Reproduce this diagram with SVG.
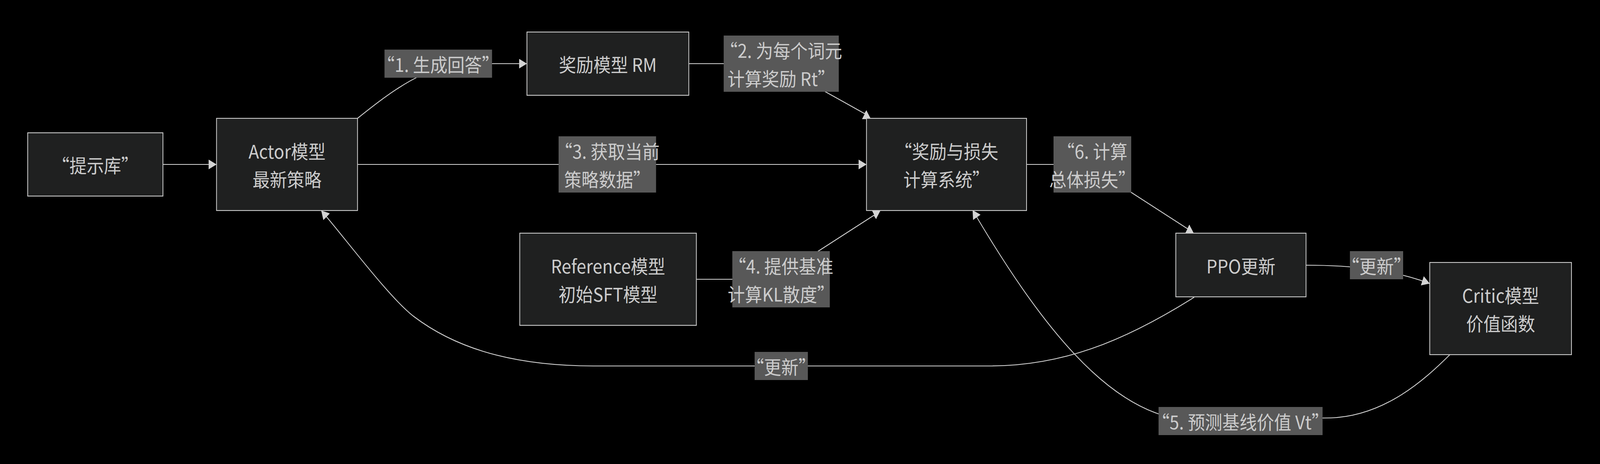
<svg xmlns="http://www.w3.org/2000/svg" width="4446" height="1188" viewBox="0 0 4446 1188">
<defs>
<style>
.node rect{fill:#1f2020;stroke:#cccccc;stroke-width:2.2}
.lbl rect{fill:#585858}
text{font-family:"Noto Sans CJK SC","Noto Sans",sans-serif;font-size:48px;fill:#cccccc;text-anchor:middle;dominant-baseline:central}
.edge{fill:none;stroke:#d3d3d3;stroke-width:2.2;marker-end:url(#arrow)}
</style>
<marker id="arrow" markerUnits="userSpaceOnUse" viewBox="0 0 22 25" markerWidth="22" markerHeight="25" refX="22" refY="12.5" orient="auto"><path d="M0,0 L22,12.5 L0,25 z" fill="#d3d3d3"/></marker>
</defs>
<rect x="0" y="0" width="4446" height="1188" fill="#000000"/>
<g id="diagram" transform="scale(0.9208 1)">
<g id="connectors">
<path class="edge" d="M453,421 L602,421"/>
<path class="edge" d="M994,303 C1090,232 1190,163 1300,163 L1465,163"/>
<path class="edge" d="M1915,163 L2060,163 C2140,163 2210,188 2295,235 L2404,291 L2409,283.5 L2409,283"/>
<path class="edge" d="M994,421 L2409,421"/>
<path class="edge" d="M1936,715 L2060,715 C2150,715 2215,680 2275,643 L2430,551 L2436,559.5 L2436,560"/>
<path class="edge" d="M2854,421 L2950,421 C3010,421 3080,450 3144,492 L3302,586 L3307,576.5 L3307,576"/>
<path class="edge" d="M3631,679 C3760,679 3870,690 3975,726"/>
<path class="edge" d="M3320,761 C3120,877 2950,937 2750,937 L1650,937 C1400,937 1250,880 1150,810 C1080,760 960,610 893,539"/>
<path class="edge" d="M4031,908 C3961,972 3850,1065 3700,1070 L3300,1075 C3080,1060 2884,819 2704,538"/>
</g>
<g id="edge-labels">
<g class="lbl" id="label-1"><rect x="1069" y="127" width="299" height="72"/><text x="1218.5" y="163">“1. 生成回答”</text></g>
<g class="lbl" id="label-2"><rect x="2012" y="91" width="320" height="144"/><text x="2172" y="127">“2. 为每个词元</text><text x="2172" y="199">计算奖励 Rt”</text></g>
<g class="lbl" id="label-3"><rect x="1553" y="349" width="271" height="144"/><text x="1688.5" y="385">“3. 获取当前</text><text x="1688.5" y="457">策略数据”</text></g>
<g class="lbl" id="label-4"><rect x="2036" y="643" width="271" height="144"/><text x="2171.5" y="679">“4. 提供基准</text><text x="2171.5" y="751">计算KL散度”</text></g>
<g class="lbl" id="label-6"><rect x="2929" y="349" width="216" height="144"/><text x="3037" y="385">“6. 计算</text><text x="3037" y="457">总体损失”</text></g>
<g class="lbl" id="label-update-critic"><rect x="3753" y="643" width="148" height="72"/><text x="3827" y="679">“更新”</text></g>
<g class="lbl" id="label-update-actor"><rect x="2098" y="901" width="148" height="72"/><text x="2172" y="937">“更新”</text></g>
<g class="lbl" id="label-5"><rect x="3221" y="1042" width="456" height="72"/><text x="3449" y="1078">“5. 预测基线价值 Vt”</text></g>
</g>
<g class="node" id="node-prompts"><rect x="77" y="340" width="376" height="162"/><text x="265" y="421">“提示库”</text></g>
<g class="node" id="node-actor"><rect x="602" y="303" width="392" height="236"/><text x="798" y="385">Actor模型</text><text x="798" y="457">最新策略</text></g>
<g class="node" id="node-rm"><rect x="1465" y="82" width="450" height="162"/><text x="1690" y="163">奖励模型 RM</text></g>
<g class="node" id="node-loss"><rect x="2409" y="303" width="445" height="236"/><text x="2631.5" y="385">“奖励与损失</text><text x="2631.5" y="457">计算系统”</text></g>
<g class="node" id="node-ref"><rect x="1445" y="597" width="491" height="236"/><text x="1690.5" y="679">Reference模型</text><text x="1690.5" y="751">初始SFT模型</text></g>
<g class="node" id="node-ppo"><rect x="3269" y="597" width="362" height="163"/><text x="3450" y="679">PPO更新</text></g>
<g class="node" id="node-critic"><rect x="3975" y="672" width="394" height="236"/><text x="4172" y="754">Critic模型</text><text x="4172" y="826">价值函数</text></g>
</g>
</svg>
